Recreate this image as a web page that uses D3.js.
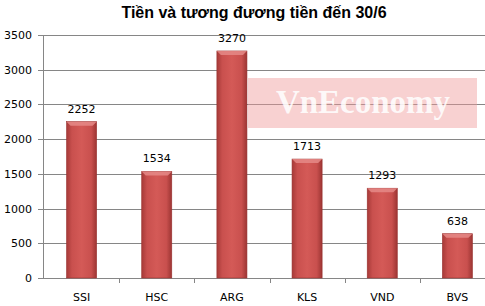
<!DOCTYPE html>
<html>
<head>
<meta charset="utf-8">
<script src="https://cdn.jsdelivr.net/npm/d3@7.9.0/dist/d3.min.js"></script>
<style>
  body { margin: 0; background: #fff; }
</style>
</head>
<body>
<div id="chart"></div>
<script>
const categories = ["SSI", "HSC", "ARG", "KLS", "VND", "BVS"];
const values = [2252, 1534, 3270, 1713, 1293, 638];
const yTicks = [0, 500, 1000, 1500, 2000, 2500, 3000, 3500];
const title = "Tiền và tương đương tiền đến 30/6";

const width = 485, height = 306;
const font = "Tahoma, 'DejaVu Sans', sans-serif";

const svg = d3.select("#chart").append("svg")
    .attr("width", width)
    .attr("height", height);

const defs = svg.append("defs");
const grad = defs.append("linearGradient")
    .attr("id", "barGrad")
    .attr("x1", "0%").attr("x2", "100%").attr("y1", "0%").attr("y2", "0%");
grad.append("stop").attr("offset", "0%").attr("stop-color", "#a63a38");
grad.append("stop").attr("offset", "18%").attr("stop-color", "#c9504e");
grad.append("stop").attr("offset", "50%").attr("stop-color", "#d45a57");
grad.append("stop").attr("offset", "82%").attr("stop-color", "#c9504e");
grad.append("stop").attr("offset", "100%").attr("stop-color", "#9c3533");

const x = d3.scaleBand()
    .domain(categories)
    .range([44, 495])
    .paddingInner(0.6)
    .paddingOuter(0.3);

const y = d3.scaleLinear()
    .domain([0, 3500])
    .range([278, 35]);

// gridlines
svg.append("g")
    .selectAll("line")
    .data(yTicks)
    .enter().append("line")
    .attr("x1", 38)
    .attr("x2", 485)
    .attr("y1", d => Math.round(y(d)) + 0.5)
    .attr("y2", d => Math.round(y(d)) + 0.5)
    .attr("stroke", "#868686")
    .attr("stroke-width", 1);

// y axis line
svg.append("line")
    .attr("x1", 43.5).attr("x2", 43.5)
    .attr("y1", Math.round(y(3500)) + 0.5)
    .attr("y2", Math.round(y(0)) + 0.5)
    .attr("stroke", "#868686");

// y tick labels
svg.append("g")
    .selectAll("text")
    .data(yTicks)
    .enter().append("text")
    .attr("x", 32)
    .attr("y", d => y(d) + 4)
    .attr("text-anchor", "end")
    .attr("font-family", font)
    .attr("font-size", "11px")
    .attr("fill", "#000")
    .text(d => d);

// x ticks between categories
const step = x.step();
const bounds = d3.range(1, categories.length).map(i => 44 + i * step);
svg.append("g")
    .selectAll("line")
    .data(bounds)
    .enter().append("line")
    .attr("x1", d => Math.round(d) + 0.5)
    .attr("x2", d => Math.round(d) + 0.5)
    .attr("y1", Math.round(y(0)))
    .attr("y2", Math.round(y(0)) + 5)
    .attr("stroke", "#868686");

// bars
const bars = svg.append("g")
    .selectAll("g")
    .data(categories)
    .enter().append("g");

bars.append("rect")
    .attr("x", d => x(d))
    .attr("y", (d, i) => y(values[i]))
    .attr("width", x.bandwidth())
    .attr("height", (d, i) => y(0) - y(values[i]))
    .attr("fill", "url(#barGrad)")
    .attr("stroke", "#9a3331")
    .attr("stroke-width", 0.6);

// top bevel highlight
bars.append("path")
    .attr("d", (d, i) => {
        const x0 = x(d), x1 = x(d) + x.bandwidth(), t = y(values[i]);
        return `M${x0},${t} L${x1},${t} L${x1 - 4},${t + 4} L${x0 + 4},${t + 4} Z`;
    })
    .attr("fill", "#e58a87")
    .attr("opacity", 0.85);

// value labels
svg.append("g")
    .selectAll("text")
    .data(categories)
    .enter().append("text")
    .attr("x", d => x(d) + x.bandwidth() / 2)
    .attr("y", (d, i) => y(values[i]) - 9)
    .attr("text-anchor", "middle")
    .attr("font-family", font)
    .attr("font-size", "11px")
    .attr("fill", "#000")
    .text((d, i) => values[i]);

// category labels
svg.append("g")
    .selectAll("text")
    .data(categories)
    .enter().append("text")
    .attr("x", d => x(d) + x.bandwidth() / 2)
    .attr("y", 301)
    .attr("text-anchor", "middle")
    .attr("font-family", font)
    .attr("font-size", "11px")
    .attr("fill", "#000")
    .text(d => d);

// title
svg.append("text")
    .attr("x", 254)
    .attr("y", 18)
    .attr("text-anchor", "middle")
    .attr("font-family", "Arial, 'Liberation Sans', sans-serif")
    .attr("font-weight", "bold")
    .attr("font-size", "16px")
    .attr("fill", "#000")
    .text(title);

// watermark
svg.append("rect")
    .attr("x", 248).attr("y", 78)
    .attr("width", 229).attr("height", 50)
    .attr("fill", "#f09a9a")
    .attr("opacity", 0.45);
svg.append("text")
    .attr("x", 363)
    .attr("y", 113)
    .attr("text-anchor", "middle")
    .attr("font-family", "'Liberation Serif', 'DejaVu Serif', serif")
    .attr("font-weight", "bold")
    .attr("font-size", "33px")
    .attr("fill", "#fff")
    .attr("opacity", 0.85)
    .text("VnEconomy");
</script>
</body>
</html>
